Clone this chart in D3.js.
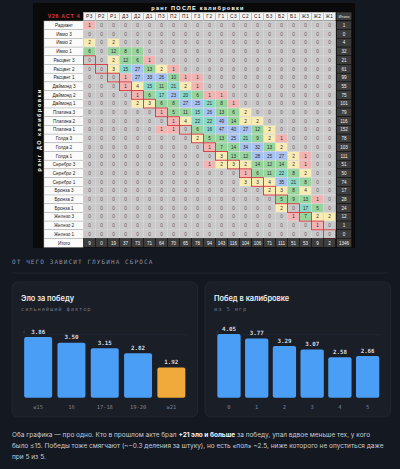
<!DOCTYPE html>
<html>
<head>
<meta charset="utf-8">
<script src="https://cdn.jsdelivr.net/npm/d3@7"></script>
<style>
  html, body { margin: 0; padding: 0; background: #141821; }
  svg { display: block; }
</style>
</head>
<body>
<div id="chart"></div>
<script>
// ранги до калибровки (строки) и после (столбцы)
const rowLabels = ['Радиант', 'Имио 3', 'Имио 2', 'Имио 1', 'Расцвет 3', 'Расцвет 2', 'Расцвет 1',
    'Даймонд 3', 'Даймонд 2', 'Даймонд 1', 'Платина 3', 'Платина 2', 'Платина 1',
    'Голда 3', 'Голда 2', 'Голда 1', 'Серебро 3', 'Серебро 2', 'Серебро 1',
    'Бронза 3', 'Бронза 2', 'Бронза 1', 'Железо 3', 'Железо 2', 'Железо 1'];
const colLabels = ['Р3', 'Р2', 'Р1', 'Д3', 'Д2', 'Д1', 'П3', 'П2', 'П1', 'Г3', 'Г2', 'Г1',
    'С3', 'С2', 'С1', 'Б3', 'Б2', 'Б1', 'Ж3', 'Ж2', 'Ж1'];

const counts = [
    [1,0,0,0,0,0,0,0,0,0,0,0,0,0,0,0,0,0,0,0,0],
    [0,0,0,0,0,0,0,0,0,0,0,0,0,0,0,0,0,0,0,0,0],
    [2,0,2,0,0,0,0,0,0,0,0,0,0,0,0,0,0,0,0,0,0],
    [6,0,12,8,6,0,0,0,0,0,0,0,0,0,0,0,0,0,0,0,0],
    [0,0,2,12,6,1,0,0,0,0,0,0,0,0,0,0,0,0,0,0,0],
    [0,0,3,15,27,13,2,1,0,0,0,0,0,0,0,0,0,0,0,0,0],
    [0,0,0,1,27,33,26,10,1,1,0,0,0,0,0,0,0,0,0,0,0],
    [0,0,0,1,4,15,11,21,2,1,0,0,0,0,0,0,0,0,0,0,0],
    [0,0,0,0,1,6,17,23,20,6,1,1,0,0,0,0,0,0,0,0,0],
    [0,0,0,0,2,3,6,8,27,25,21,8,1,0,0,0,0,0,0,0,0],
    [0,0,0,0,0,0,1,5,11,15,26,13,6,2,0,0,0,0,0,0,0],
    [0,0,0,0,0,0,0,1,4,22,22,49,14,2,2,0,0,0,0,0,0],
    [0,0,0,0,0,0,1,1,0,6,16,47,40,27,12,2,0,0,0,0,0],
    [0,0,0,0,0,0,0,0,0,2,5,13,25,21,9,2,1,0,0,0,0],
    [0,0,0,0,0,0,0,0,0,0,1,7,14,34,32,13,2,0,0,0,0],
    [0,0,0,0,0,0,0,0,0,0,0,3,13,12,28,25,27,2,1,0,0],
    [0,0,0,0,0,0,0,0,0,0,1,2,3,2,14,12,14,2,1,0,0],
    [0,0,0,0,0,0,0,0,0,0,0,0,0,1,6,11,22,8,2,0,0],
    [0,0,0,0,0,0,0,0,0,0,0,0,0,3,3,4,35,21,8,0,0],
    [0,0,0,0,0,0,0,0,0,0,0,0,0,0,0,2,3,8,4,0,0],
    [0,0,0,0,0,0,0,0,0,0,0,0,0,0,0,0,5,9,13,1,0],
    [0,0,0,0,0,0,0,0,0,0,0,0,0,0,0,0,2,0,17,5,0],
    [0,0,0,0,0,0,0,0,0,0,0,0,0,0,0,0,0,1,7,2,2],
    [0,0,0,0,0,0,0,0,0,0,0,0,0,0,0,0,0,0,0,1,0],
    [0,0,0,0,0,0,0,0,0,0,0,0,0,0,0,0,0,0,0,0,0]
];
const rowTotals = [1,0,4,32,21,61,99,55,75,101,79,116,152,78,103,111,51,50,74,17,28,24,12,1,0];
const colTotals = [9,0,19,37,73,71,64,70,65,78,94,143,116,104,106,71,111,51,53,9,2];
const grandTotal = 1346;

// бары
const eloCats = ['≤15', '16', '17-18', '19-20', '≥21'];
const eloValues = [3.86, 3.50, 3.15, 2.82, 1.92];
const winCats = ['0', '1', '2', '3', '4', '5'];
const winValues = [4.05, 3.77, 3.29, 3.07, 2.58, 2.66];

const W = 400, H = 469;
const tableFont = '"Liberation Sans", Arial, sans-serif';
const uiFont = 'Inter, "Noto Sans", sans-serif';
const mono = '"DejaVu Sans Mono", monospace';

const svg = d3.select('#chart').append('svg')
    .attr('width', W).attr('height', H)
    .attr('viewBox', `0 0 ${W} ${H}`);

svg.append('rect').attr('width', W).attr('height', H).attr('fill', '#141821');

// ---------- heatmap (картинка-таблица) ----------
const tbl = svg.append('g');
tbl.append('rect')
    .attr('x', 33).attr('y', 3).attr('width', 322).attr('height', 245)
    .attr('fill', '#0a0a0a');

const x = d3.scaleBand().domain(d3.range(colLabels.length)).range([83.5, 335.5]);
const y = d3.scaleBand().domain(d3.range(rowLabels.length)).range([21, 238.5]);
const totX = 336.5, totW = 15;
const headY = 12.3, headH = 8;
const totY = 238.5, totH = y.bandwidth();

const color = d3.scaleThreshold()
    .domain([1, 2, 5, 15, 23])
    .range(['#c9c9c9', '#f2b4b2', '#f8ecb4', '#97d59c', '#8ad8c8', '#a8c3f2']);

// заголовки
tbl.append('text')
    .attr('x', 198).attr('y', 9.5)
    .attr('text-anchor', 'middle')
    .attr('fill', '#fff')
    .style('font-family', tableFont).style('font-size', '5.6px')
    .style('font-weight', 700).style('letter-spacing', '1.2px')
    .text('ранг ПОСЛЕ калибровки');

tbl.append('text')
    .attr('transform', `translate(40.5, ${y(12) + y.bandwidth() / 2}) rotate(-90)`)
    .attr('text-anchor', 'middle')
    .attr('fill', '#fff')
    .style('font-family', tableFont).style('font-size', '5.4px')
    .style('font-weight', 700).style('letter-spacing', '1.6px')
    .text('ранг ДО калибровки');

tbl.append('text')
    .attr('x', 64).attr('y', headY + headH / 2 + 2)
    .attr('text-anchor', 'middle')
    .attr('fill', '#e3353d')
    .style('font-family', tableFont).style('font-size', '5.2px')
    .style('font-weight', 700).style('letter-spacing', '0.8px')
    .text('V26 ACT 4');

// шапка столбцов
const head = tbl.append('g').selectAll('g').data(colLabels).enter().append('g');
head.append('rect')
    .attr('x', (d, i) => x(i)).attr('y', headY)
    .attr('width', x.bandwidth()).attr('height', headH)
    .attr('fill', '#f4f4f4').attr('stroke', '#bdbdbd').attr('stroke-width', 0.5);
head.append('text')
    .attr('x', (d, i) => x(i) + x.bandwidth() / 2).attr('y', headY + headH / 2 + 1.8)
    .attr('text-anchor', 'middle').attr('fill', '#222')
    .style('font-family', tableFont).style('font-size', '4.8px').style('letter-spacing', '0.5px')
    .text(d => d);

tbl.append('rect')
    .attr('x', totX).attr('y', headY).attr('width', totW).attr('height', headH)
    .attr('fill', '#3d3d3d');
tbl.append('text')
    .attr('x', totX + totW / 2).attr('y', headY + headH / 2 + 1.6)
    .attr('text-anchor', 'middle').attr('fill', '#eee')
    .style('font-family', tableFont).style('font-size', '4.2px')
    .text('Итого');

// подписи строк
const labelsAll = rowLabels.concat(['Итого']);
const lab = tbl.append('g').selectAll('g').data(labelsAll).enter().append('g');
lab.append('rect')
    .attr('x', 44).attr('y', (d, i) => i < rowLabels.length ? y(i) : totY)
    .attr('width', 39.5).attr('height', y.bandwidth())
    .attr('fill', '#fbfbfb').attr('stroke', '#b8b8b8').attr('stroke-width', 0.5);
lab.append('text')
    .attr('x', 64).attr('y', (d, i) => (i < rowLabels.length ? y(i) : totY) + y.bandwidth() / 2 + 1.7)
    .attr('text-anchor', 'middle').attr('fill', '#222')
    .style('font-family', tableFont).style('font-size', '4.6px')
    .text(d => d);

// ячейки
const cellData = [];
counts.forEach((row, r) => row.forEach((v, c) => cellData.push({ r, c, v })));

const cells = tbl.append('g').selectAll('g').data(cellData).enter().append('g');
cells.append('rect')
    .attr('x', d => x(d.c)).attr('y', d => y(d.r))
    .attr('width', x.bandwidth()).attr('height', y.bandwidth())
    .attr('fill', d => color(d.v))
    .attr('stroke', '#e2e2e2').attr('stroke-width', 0.6);
cells.append('text')
    .attr('x', d => x(d.c) + x.bandwidth() / 2)
    .attr('y', d => y(d.r) + y.bandwidth() / 2 + 1.7)
    .attr('text-anchor', 'middle')
    .attr('fill', d => d.v ? '#2b2b2b' : '#5e5e5e')
    .style('font-family', tableFont).style('font-size', '4.7px')
    .text(d => d.v);

// диагональ «тот же ранг»
tbl.append('g').selectAll('rect')
    .data(d3.range(4, rowLabels.length))
    .enter().append('rect')
    .attr('x', r => x(r - 4)).attr('y', r => y(r))
    .attr('width', x.bandwidth()).attr('height', y.bandwidth())
    .attr('fill', 'none').attr('stroke', '#d9343b').attr('stroke-width', 0.9);

// итоги по строкам
const rt = tbl.append('g').selectAll('g').data(rowTotals).enter().append('g');
rt.append('rect')
    .attr('x', totX).attr('y', (d, i) => y(i))
    .attr('width', totW).attr('height', y.bandwidth())
    .attr('fill', '#3d3d3d').attr('stroke', '#111').attr('stroke-width', 0.5);
rt.append('text')
    .attr('x', totX + totW / 2).attr('y', (d, i) => y(i) + y.bandwidth() / 2 + 1.7)
    .attr('text-anchor', 'middle').attr('fill', '#f0f0f0')
    .style('font-family', tableFont).style('font-size', '4.6px')
    .text(d => d);

// итоги по столбцам
const ct = tbl.append('g').selectAll('g').data(colTotals.concat([grandTotal])).enter().append('g');
ct.append('rect')
    .attr('x', (d, i) => i < colTotals.length ? x(i) : totX).attr('y', totY)
    .attr('width', (d, i) => i < colTotals.length ? x.bandwidth() : totW).attr('height', totH)
    .attr('fill', '#3d3d3d').attr('stroke', '#111').attr('stroke-width', 0.5);
ct.append('text')
    .attr('x', (d, i) => (i < colTotals.length ? x(i) + x.bandwidth() / 2 : totX + totW / 2))
    .attr('y', totY + totH / 2 + 1.7)
    .attr('text-anchor', 'middle').attr('fill', '#f0f0f0')
    .style('font-family', tableFont).style('font-size', '4.6px')
    .text(d => d);

// ---------- секция с барами ----------
svg.append('text')
    .attr('x', 12).attr('y', 264)
    .attr('fill', '#8a92a0')
    .style('font-family', mono).style('font-size', '6px').style('letter-spacing', '1.1px')
    .text('ОТ ЧЕГО ЗАВИСИТ ГЛУБИНА СБРОСА');

svg.append('line')
    .attr('x1', 12).attr('x2', 388).attr('y1', 273).attr('y2', 273)
    .attr('stroke', '#252a34').attr('stroke-width', 0.8);

const yBar = d3.scaleLinear().domain([0, 4.5]).range([397.7, 326.95]);

function barCard(opts) {
    const g = svg.append('g');
    g.append('rect')
        .attr('x', opts.x).attr('y', 282).attr('width', 185.5).attr('height', 135)
        .attr('rx', 6)
        .attr('fill', '#1a1e27').attr('stroke', '#242934').attr('stroke-width', 0.8);

    g.append('text')
        .attr('x', opts.x + 9).attr('y', 300.5)
        .attr('fill', '#eceef2')
        .style('font-family', uiFont).style('font-size', '7.4px').style('font-weight', 600)
        .text(opts.title);
    g.append('text')
        .attr('x', opts.x + 9).attr('y', 311)
        .attr('fill', '#6c7381')
        .style('font-family', mono).style('font-size', '5.4px').style('letter-spacing', '0.9px')
        .text(opts.subtitle);

    const xb = d3.scaleBand().domain(opts.cats).range(opts.range)
        .paddingInner(0.16).paddingOuter(0.08);

    // линия сетки на 4
    g.append('line')
        .attr('x1', opts.range[0]).attr('x2', opts.range[1])
        .attr('y1', yBar(4)).attr('y2', yBar(4))
        .attr('stroke', '#292e39').attr('stroke-width', 0.6);
    g.append('text')
        .attr('x', opts.range[0] + 1.5).attr('y', yBar(4) - 1.5)
        .attr('fill', '#4c5360')
        .style('font-family', mono).style('font-size', '3.4px')
        .text('4');

    const data = opts.cats.map((c, i) => ({ c, v: opts.values[i] }));
    g.selectAll('.bar').data(data).enter().append('rect')
        .attr('class', 'bar')
        .attr('x', d => xb(d.c)).attr('y', d => yBar(d.v))
        .attr('width', xb.bandwidth()).attr('height', d => yBar(0) - yBar(d.v))
        .attr('rx', 2)
        .attr('fill', (d, i) => i === opts.highlight ? '#efaa3b' : '#4b9ef5');

    g.selectAll('.val').data(data).enter().append('text')
        .attr('class', 'val')
        .attr('x', d => xb(d.c) + xb.bandwidth() / 2).attr('y', d => yBar(d.v) - 3.2)
        .attr('text-anchor', 'middle')
        .attr('fill', '#d6dae1')
        .style('font-family', mono).style('font-size', '5.8px').style('font-weight', 700)
        .text(d => d.v.toFixed(2));

    const ax = g.append('g')
        .attr('transform', `translate(0,${yBar(0)})`)
        .call(d3.axisBottom(xb).tickSize(0).tickPadding(7));
    ax.select('.domain').remove();
    ax.selectAll('text')
        .attr('fill', '#7b8290')
        .style('font-family', mono).style('font-size', '5.4px');
}

barCard({ x: 12, title: 'Эло за победу', subtitle: 'сильнейший фактор',
    cats: eloCats, values: eloValues, range: [21.5, 188], highlight: 4 });
barCard({ x: 205, title: 'Побед в калибровке', subtitle: 'из 5 игр',
    cats: winCats, values: winValues, range: [215.1, 381.5], highlight: -1 });

// ---------- текст снизу ----------
const para = svg.append('text')
    .attr('fill', '#c6cbd4')
    .style('font-family', uiFont).style('font-size', '6.5px');
const lines = [
    [['Оба графика — про одно. Кто в прошлом акте брал ', false], ['+21 эло и больше', true],
     [' за победу, упал вдвое меньше тех, у кого', false]],
    [['было ≤15. Победы тоже смягчают (~−0.3 деления за штуку), но есть «пол» ~2.5, ниже которого не опуститься даже', false]],
    [['при 5 из 5.', false]]
];
lines.forEach((parts, li) => {
    parts.forEach((p, pi) => {
        const t = para.append('tspan').text(p[0]);
        if (pi === 0) t.attr('x', 12).attr('y', 436.5 + li * 11.4);
        if (p[1]) t.attr('fill', '#f4f6f9').style('font-weight', 700);
    });
});
</script>
</body>
</html>
